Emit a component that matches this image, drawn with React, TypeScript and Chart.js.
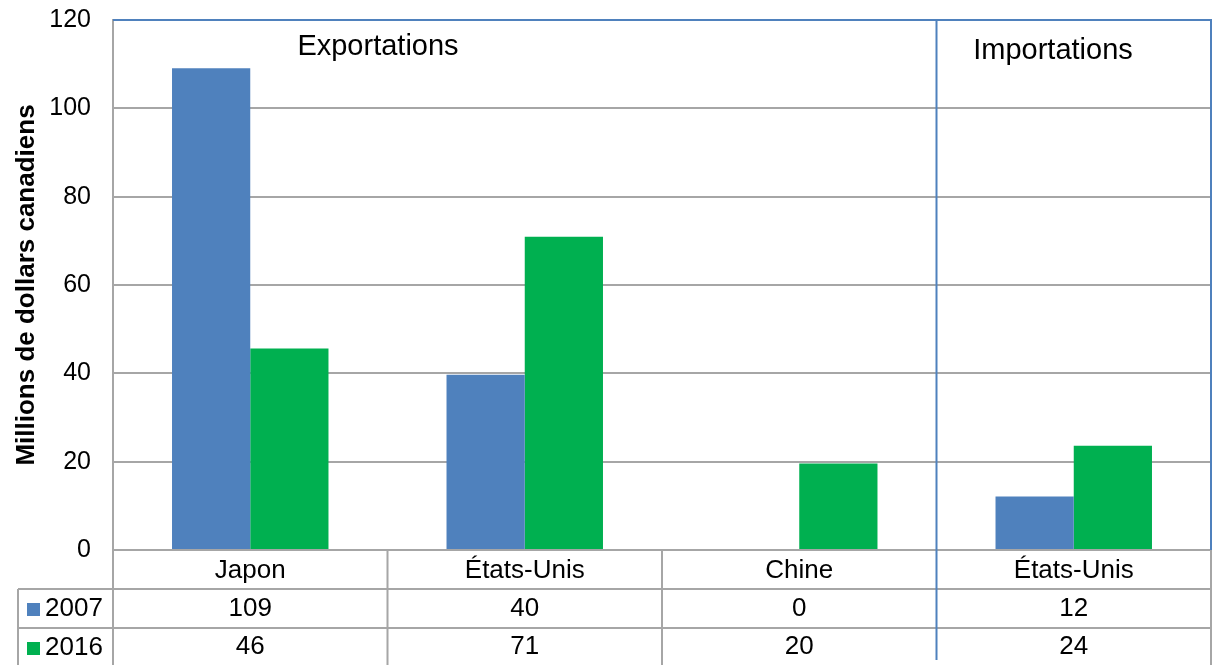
import React, { useEffect, useRef } from "react";
import { Chart, registerables } from "chart.js";

Chart.register(...registerables);

const categories = ["Japon", "États-Unis", "Chine", "États-Unis"];
const seriesNames = ["2007", "2016"];
const values2007 = [109.1, 39.7, 0, 12.1];
const values2016 = [45.6, 70.9, 19.6, 23.6];
const seriesColors = ["#4F81BD", "#00B050"];
const sectionLabels = ["Exportations", "Importations"];
const yTicks = [0, 20, 40, 60, 80, 100, 120];
const yTitle = "Millions de dollars canadiens";

const FONT = "'Liberation Sans', Arial, sans-serif";
const GRID = "#A6A6A6";
const BLUE = "#4F81BD";

const tablePlugin = {
  id: "tablePlugin",
  afterDraw(chart: any) {
    const { ctx, chartArea } = chart;
    const xs = chart.scales.x;
    const { left, right, top, bottom } = chartArea;
    const catW = (right - left) / categories.length;
    const row1 = bottom + 39;
    const row2 = bottom + 78;
    const tableBottom = 665;
    const legendLeft = 18;
    ctx.save();
    ctx.strokeStyle = GRID;
    ctx.lineWidth = 2;
    ctx.beginPath();
    ctx.moveTo(left, bottom);
    ctx.lineTo(right, bottom);
    ctx.moveTo(legendLeft, row1);
    ctx.lineTo(right, row1);
    ctx.moveTo(legendLeft, row2);
    ctx.lineTo(right, row2);
    ctx.moveTo(legendLeft, row1);
    ctx.lineTo(legendLeft, tableBottom);
    for (let i = 0; i <= categories.length; i++) {
      if (i === 3) continue;
      const x = left + i * catW;
      ctx.moveTo(x, bottom);
      ctx.lineTo(x, tableBottom);
    }
    ctx.stroke();
    ctx.strokeStyle = BLUE;
    ctx.lineWidth = 2;
    ctx.beginPath();
    ctx.moveTo(left, top);
    ctx.lineTo(right, top);
    ctx.lineTo(right, bottom);
    const sep = left + 3 * catW;
    ctx.moveTo(sep, top);
    ctx.lineTo(sep, tableBottom - 5);
    ctx.stroke();

    ctx.fillStyle = "#000";
    ctx.textAlign = "center";
    ctx.textBaseline = "middle";
    ctx.font = `26px ${FONT}`;
    categories.forEach((c, i) => {
      const cx = xs.getPixelForValue(i);
      ctx.fillText(c, cx, bottom + 21);
      ctx.fillText(String(Math.round(values2007[i])), cx, row1 + 20);
      ctx.fillText(String(Math.round(values2016[i])), cx, row2 + 19);
    });
    ctx.textAlign = "left";
    seriesNames.forEach((s, k) => {
      const ry = (k === 0 ? row1 : row2) + 20;
      ctx.fillStyle = seriesColors[k];
      ctx.fillRect(27, ry - 6, 13, 13);
      ctx.fillStyle = "#000";
      ctx.fillText(s, 45, ry);
    });
    ctx.textAlign = "center";
    ctx.font = `29px ${FONT}`;
    ctx.fillText(sectionLabels[0], 378, top + 27);
    ctx.fillText(sectionLabels[1], 1053, top + 31);
    ctx.save();
    ctx.translate(27, 285);
    ctx.rotate(-Math.PI / 2);
    ctx.font = `bold 26px ${FONT}`;
    ctx.fillText(yTitle, 0, 0);
    ctx.restore();
    ctx.restore();
  },
};

export default function App() {
  const ref = useRef<HTMLCanvasElement>(null);
  useEffect(() => {
    document.body.style.margin = "0";
    const chart = new Chart(ref.current!, {
      type: "bar",
      data: {
        labels: categories,
        datasets: [
          { label: seriesNames[0], data: values2007, backgroundColor: seriesColors[0] },
          { label: seriesNames[1], data: values2016, backgroundColor: seriesColors[1] },
        ],
      },
      options: {
        animation: false,
        responsive: false,
        layout: { padding: { top: 20, right: 1, bottom: 115, left: 0 } },
        plugins: { legend: { display: false }, tooltip: { enabled: false } },
        datasets: { bar: { barPercentage: 1, categoryPercentage: 0.57 } },
        scales: {
          x: { display: false },
          y: {
            min: 0,
            max: 120,
            afterBuildTicks: (s: any) => {
              s.ticks = yTicks.map((v) => ({ value: v }));
            },
            afterFit: (s: any) => {
              s.width = 113;
              s.paddingTop = 0;
              s.paddingBottom = 0;
            },
            grid: { color: GRID, lineWidth: 2, drawTicks: false },
            border: { color: GRID, width: 2 },
            ticks: {
              color: "#000",
              padding: 22,
              font: { family: FONT, size: 25 },
            },
          },
        },
      },
      plugins: [tablePlugin],
    });
    return () => chart.destroy();
  }, []);
  return (
    <div style={{ position: "absolute", left: 0, top: 0, width: 1212, height: 665 }}>
      <canvas ref={ref} width={1212} height={665} style={{ width: 1212, height: 665 }} />
    </div>
  );
}
